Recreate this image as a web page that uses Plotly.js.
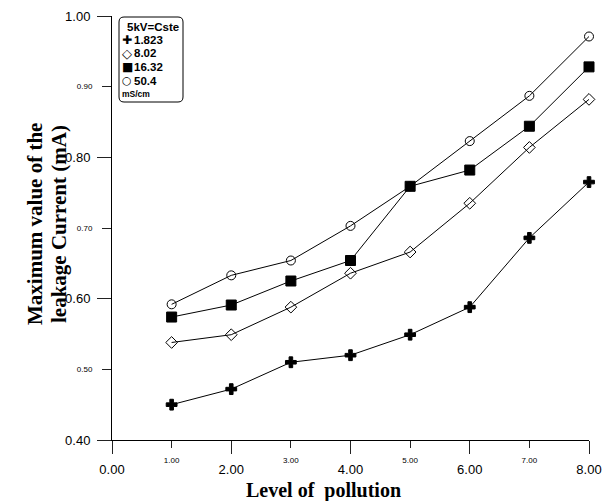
<!DOCTYPE html>
<html>
<head>
<meta charset="utf-8">
<script src="https://cdn.plot.ly/plotly-3.0.1.min.js"></script>
<style>
  html, body { margin: 0; padding: 0; background: #ffffff; }
  #chart { width: 603px; height: 501px; }
</style>
</head>
<body>
<div id="chart"></div>
<script>
// Pollution level (x) and maximum leakage current (mA) for each conductivity
const pollutionLevel = [1, 2, 3, 4, 5, 6, 7, 8];
const current_1823 = [0.450, 0.472, 0.510, 0.520, 0.549, 0.588, 0.686, 0.765];
const current_802  = [0.538, 0.549, 0.588, 0.636, 0.666, 0.735, 0.814, 0.882];
const current_1632 = [0.574, 0.591, 0.625, 0.654, 0.759, 0.782, 0.844, 0.928];
const current_504  = [0.592, 0.633, 0.654, 0.703, 0.759, 0.823, 0.887, 0.971];

const seriesNames = ['1.823', '8.02', '16.32', '50.4'];
const legendGlyphs = ['\u271A', '\u25C7', '\u25A0', '\u25CB'];

const xMajorTicks = [0, 2, 4, 6, 8];
const xMajorLabels = ['0.00', '2.00', '4.00', '6.00', '8.00'];
const xMinorTicks = [1, 3, 5, 7];
const xMinorLabels = ['1.00', '3.00', '5.00', '7.00'];
const yMajorTicks = [0.4, 0.6, 0.8, 1.0];
const yMajorLabels = ['0.40', '0.60', '0.80', '1.00'];
const yMinorTicks = [0.5, 0.7, 0.9];
const yMinorLabels = ['0.50', '0.70', '0.90'];

const sans = 'Liberation Sans, Arial, sans-serif';
const serif = 'Liberation Serif, Times New Roman, serif';
const glyphFont = 'DejaVu Sans, sans-serif';

function series(y, name, symbol, size) {
  return {
    x: pollutionLevel, y: y, name: name, type: 'scatter', mode: 'lines+markers',
    line: { color: '#000', width: 1 },
    marker: { symbol: symbol, size: size, color: '#000', line: { color: '#000', width: 1 } },
    showlegend: false, cliponaxis: false, hoverinfo: 'x+y'
  };
}

// 50.4 drawn before 16.32 so the filled square sits on top where they meet
const traces = [
  series(current_1823, seriesNames[0], 'cross', 9),
  series(current_802, seriesNames[1], 'diamond-open', 9),
  series(current_504, seriesNames[3], 'circle-open', 9),
  series(current_1632, seriesNames[2], 'square', 10)
];

const L = 112, T = 16, W = 603, H = 501, R = 14, B = 61;

// hand-drawn legend block: rounded frame, heading, key glyphs, labels, unit
const rowY = [39.5, 53, 67, 80.5];
const glyphSize = [12, 13, 12, 11];
const annotations = [];
function note(text, dx, dy, size, anchor, family) {
  annotations.push({
    xref: 'paper', yref: 'paper', x: 0, y: 1, xanchor: anchor || 'left', yanchor: 'middle',
    xshift: dx, yshift: -(dy - T), text: text, showarrow: false,
    font: { family: family || sans, size: size, color: '#000' }
  });
}
note('<b>5kV=Cste</b>', 13, 27, 11.5);
for (let i = 0; i < seriesNames.length; i++) {
  note(legendGlyphs[i], 15, rowY[i], glyphSize[i], 'center', glyphFont);
  note('<b>' + seriesNames[i] + '</b>', 20, rowY[i], 11.5);
}
note('<b>mS/cm</b>', 8, 94, 8.5);

annotations.push({
  xref: 'paper', yref: 'paper', x: (323 - L) / (W - L - R), y: 0, yanchor: 'middle',
  yshift: -(490 - (H - B)), text: '<b>Level of\u00a0 pollution</b>', showarrow: false,
  font: { family: serif, size: 20, color: '#000' }
});
const yTitleLines = ['<b>Maximum value of the</b>', '<b>leakage Current (mA)</b>'];
const yTitleX = [35, 59];
yTitleLines.forEach((t, i) => annotations.push({
  xref: 'paper', yref: 'paper', x: 0, y: 0.5, xanchor: 'center', yanchor: 'middle',
  xshift: -(L - yTitleX[i]), yshift: 4, text: t, textangle: -90, showarrow: false,
  font: { family: serif, size: 21, color: '#000' }
}));

const layout = {
  width: W, height: H,
  margin: { l: L, r: R, t: T, b: B },
  paper_bgcolor: '#fff', plot_bgcolor: '#fff',
  showlegend: false,
  xaxis: {
    range: [0, 8], tickmode: 'array', tickvals: xMajorTicks, ticktext: xMajorLabels,
    ticks: 'outside', ticklen: 13, tickwidth: 1, tickcolor: '#222',
    showline: true, linecolor: '#000', linewidth: 1, showgrid: false, zeroline: false,
    tickfont: { family: sans, size: 13, color: '#000' }, ticklabelstandoff: 4
  },
  xaxis2: {
    range: [0, 8], overlaying: 'x', anchor: 'y', side: 'bottom',
    tickmode: 'array', tickvals: xMinorTicks, ticktext: xMinorLabels,
    ticks: 'outside', ticklen: 7, tickwidth: 1, tickcolor: '#222',
    showline: false, showgrid: false, zeroline: false,
    tickfont: { family: sans, size: 8, color: '#000' }, ticklabelstandoff: 5
  },
  yaxis: {
    range: [0.4, 1.0], tickmode: 'array', tickvals: yMajorTicks, ticktext: yMajorLabels,
    ticks: 'outside', ticklen: 14, tickwidth: 1, tickcolor: '#222',
    showline: true, linecolor: '#000', linewidth: 1, showgrid: false, zeroline: false,
    tickfont: { family: sans, size: 13, color: '#000' }, ticklabelstandoff: 4
  },
  yaxis2: {
    range: [0.4, 1.0], overlaying: 'y', anchor: 'x', side: 'left',
    tickmode: 'array', tickvals: yMinorTicks, ticktext: yMinorLabels,
    ticks: 'outside', ticklen: 9, tickwidth: 1, tickcolor: '#222',
    showline: false, showgrid: false, zeroline: false,
    tickfont: { family: sans, size: 8, color: '#000' }, ticklabelstandoff: 8
  },
  shapes: [{
    type: 'path', xref: 'paper', yref: 'paper', xsizemode: 'pixel', ysizemode: 'pixel',
    xanchor: 0, yanchor: 1,
    path: 'M 12,-1 L 66,-1 Q 71,-1 71,-6 L 71,-81 Q 71,-86 66,-86 L 12,-86 Q 7,-86 7,-81 L 7,-6 Q 7,-1 12,-1 Z',
    line: { color: '#000', width: 1 }, fillcolor: 'rgba(0,0,0,0)'
  }],
  annotations: annotations
};

// empty trace that brings the overlay tick axes into the figure
traces.push({ x: [], y: [], xaxis: 'x2', yaxis: 'y2', type: 'scatter', showlegend: false, hoverinfo: 'skip' });

Plotly.newPlot('chart', traces, layout, { displayModeBar: false, staticPlot: true });
</script>
</body>
</html>
